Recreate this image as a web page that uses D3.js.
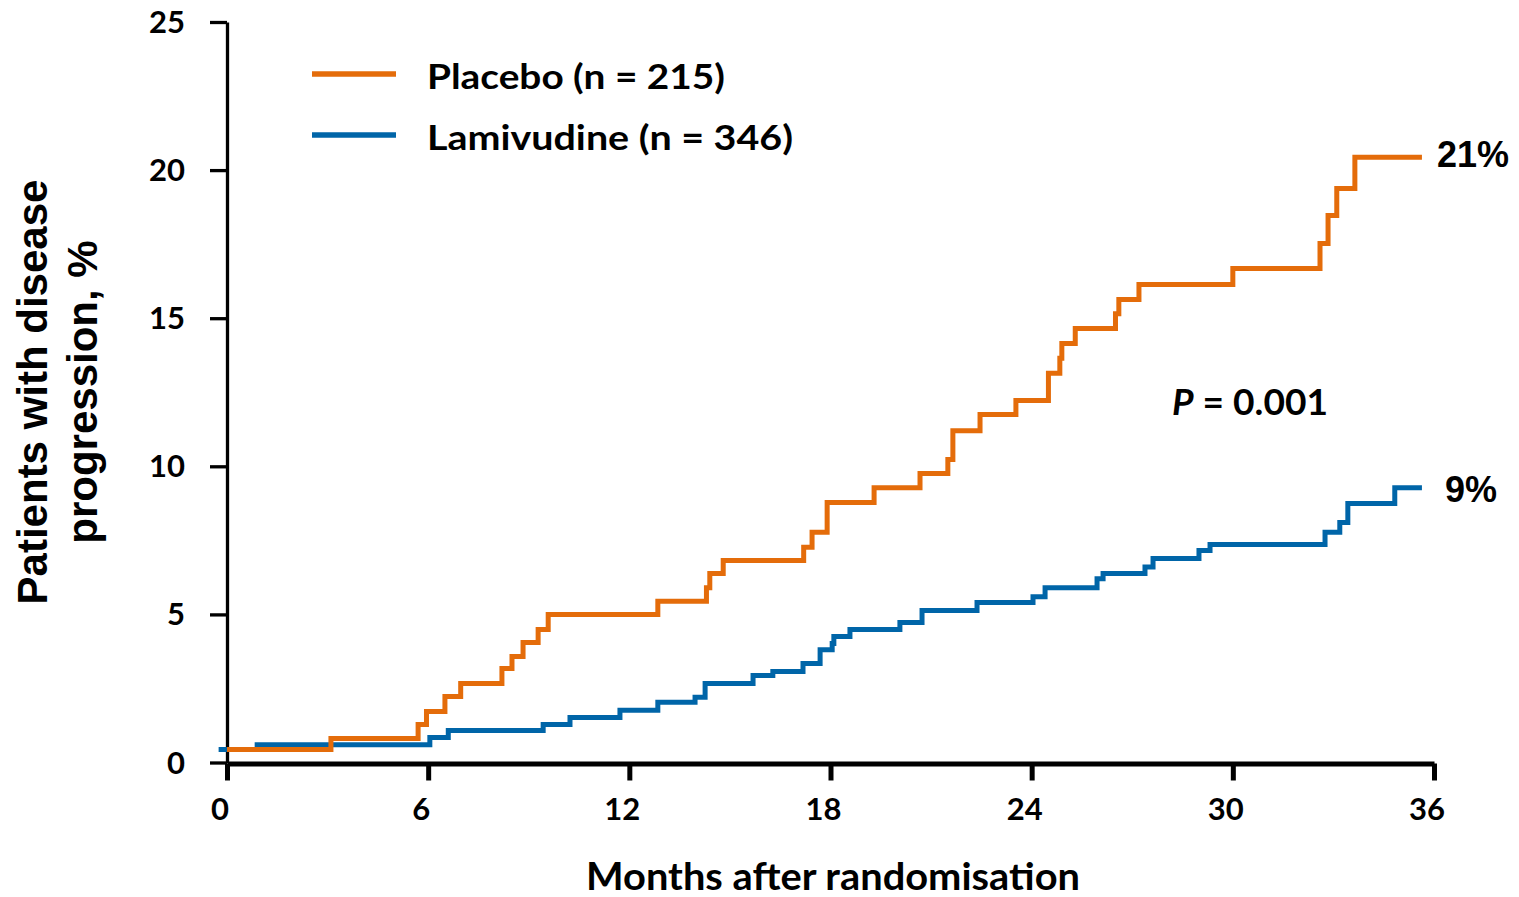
<!DOCTYPE html>
<html>
<head>
<meta charset="utf-8">
<script src="https://cdn.jsdelivr.net/npm/d3@7"></script>
<style>
  html, body { margin: 0; padding: 0; background: #ffffff; }
  svg { display: block; }
</style>
</head>
<body>
<script>
// ---------------- data ----------------
const xTicks = [0, 6, 12, 18, 24, 30, 36];
const yTicks = [0, 5, 10, 15, 20, 25];

const seriesNames = ["Placebo (n = 215)", "Lamivudine (n = 346)"];
const seriesColors = ["#E46C0A", "#0065A8"];

// Placebo: month at which each step starts, cumulative % with progression
const placeboMonths = [0, 3.1, 5.7, 5.95, 6.5, 6.97, 8.2, 8.5, 8.83, 9.28, 9.58, 12.85, 14.3, 14.4, 14.8,
  17.2, 17.45, 17.9, 19.3, 20.67, 21.5, 21.65, 22.46, 23.53, 24.5, 24.84, 24.9, 25.3, 26.5, 26.6,
  27.2, 30.0, 32.6, 32.84, 33.1, 33.64, 35.64];
const placeboPct = [0.44, 0.81, 1.28, 1.72, 2.23, 2.67, 3.17, 3.58, 4.05, 4.49, 5.0, 5.44, 5.9, 6.38, 6.82,
  7.27, 7.77, 8.78, 9.28, 9.76, 10.23, 11.2, 11.75, 12.22, 13.14, 13.65, 14.15, 14.65, 15.15, 15.63,
  16.14, 16.68, 17.52, 18.47, 19.38, 20.43, 20.43];

// Lamivudine
const lamMonths = [-0.25, 0.9, 6.05, 6.6, 9.43, 10.23, 11.72, 12.85, 13.96, 14.26, 15.69, 16.28, 17.18,
  17.69, 18.05, 18.1, 18.58, 20.07, 20.73, 22.37, 24.04, 24.4, 25.95, 26.13, 27.38, 27.62, 28.99,
  29.32, 32.75, 33.19, 33.43, 34.83, 35.64];
const lamPct = [0.44, 0.6, 0.84, 1.08, 1.28, 1.52, 1.76, 2.03, 2.2, 2.67, 2.94, 3.07, 3.34,
  3.81, 4.02, 4.25, 4.49, 4.73, 5.13, 5.4, 5.6, 5.9, 6.2, 6.38, 6.6, 6.89, 7.16,
  7.36, 7.77, 8.1, 8.74, 9.28, 9.28];

const endLabels = ["21%", "9%"];
const pValueText = "0.001";
const xTitle = "Months after randomisation";
const yTitleLines = ["Patients with disease", "progression, %"];

// ---------------- drawing ----------------
const W = 1519, H = 897;
const svg = d3.select("body").append("svg").attr("width", W).attr("height", H);

const x = d3.scaleLinear().domain([0, 36]).range([227, 1434]);
const y = d3.scaleLinear().domain([0, 25]).range([762.5, 22]);

const calibriLike = "Lato, 'Open Sans', sans-serif";
const arialLike = "'Liberation Sans', Arial, sans-serif";

// y axis
const gy = svg.append("g").attr("transform", "translate(227,0)")
  .call(d3.axisLeft(y).tickValues(yTicks).tickSize(17).tickSizeOuter(0).tickFormat(""));
gy.select(".domain").attr("stroke", "#000").attr("stroke-width", 3.3);
gy.selectAll(".tick line").attr("stroke", "#000").attr("stroke-width", 3.3);

// x axis
const gx = svg.append("g").attr("transform", "translate(0,763.5)")
  .call(d3.axisBottom(x).tickValues(xTicks).tickSize(17).tickSizeOuter(0).tickFormat(""));
gx.select(".domain").attr("stroke", "#000").attr("stroke-width", 5);
gx.selectAll(".tick line").attr("stroke", "#000").attr("stroke-width", 5);

// tick labels
svg.append("g").selectAll("text").data(yTicks).join("text")
  .attr("x", 185).attr("y", d => y(d) + 11)
  .attr("text-anchor", "end")
  .attr("font-family", calibriLike).attr("font-weight", 700).attr("font-size", 31)
  .text(d => d);

svg.append("g").selectAll("text").data(xTicks).join("text")
  .attr("x", d => x(d) - 7).attr("y", 820)
  .attr("text-anchor", "middle")
  .attr("font-family", calibriLike).attr("font-weight", 700).attr("font-size", 31)
  .text(d => d);

// axis titles
svg.append("text")
  .attr("x", 586).attr("y", 890)
  .attr("textLength", 494).attr("lengthAdjust", "spacingAndGlyphs")
  .attr("font-family", calibriLike).attr("font-weight", 700).attr("font-size", 38)
  .text(xTitle);

const yt = svg.append("g").attr("transform", "rotate(-90)");
yt.selectAll("text").data(yTitleLines).join("text")
  .attr("x", -392).attr("y", (d, i) => 47 + i * 50)
  .attr("text-anchor", "middle")
  .attr("font-family", arialLike).attr("font-weight", 700).attr("font-size", 42)
  .text(d => d);

// curves
const line = d3.line().x(d => x(d[0])).y(d => y(d[1])).curve(d3.curveStepAfter);
const series = [
  d3.zip(placeboMonths, placeboPct),
  d3.zip(lamMonths, lamPct)
];
// draw lamivudine first, placebo on top
[1, 0].forEach(i => {
  svg.append("path")
    .datum(series[i])
    .attr("d", line)
    .attr("fill", "none")
    .attr("stroke", seriesColors[i])
    .attr("stroke-width", 5)
    .attr("stroke-linejoin", "miter");
});

// legend
const legendTextWidths = [298, 366];
const lg = svg.append("g");
seriesNames.forEach((name, i) => {
  const yy = 74 + i * 61;
  lg.append("line").attr("x1", 312).attr("x2", 396).attr("y1", yy).attr("y2", yy)
    .attr("stroke", seriesColors[i]).attr("stroke-width", 5.5);
  lg.append("text").attr("x", 427).attr("y", 89 + i * 61)
    .attr("textLength", legendTextWidths[i]).attr("lengthAdjust", "spacingAndGlyphs")
    .attr("font-family", calibriLike).attr("font-weight", 700).attr("font-size", 35)
    .text(name);
});

// end labels
const lastVals = [placeboPct[placeboPct.length - 1], lamPct[lamPct.length - 1]];
svg.append("text").attr("x", 1437).attr("y", y(lastVals[0]) + 10)
  .attr("font-family", arialLike).attr("font-weight", 700).attr("font-size", 36)
  .text(endLabels[0]);
svg.append("text").attr("x", 1445).attr("y", y(lastVals[1]) + 14)
  .attr("font-family", arialLike).attr("font-weight", 700).attr("font-size", 36)
  .text(endLabels[1]);

// p value
const pt = svg.append("text").attr("x", 1172).attr("y", 415)
  .attr("textLength", 156).attr("lengthAdjust", "spacingAndGlyphs")
  .attr("font-family", calibriLike).attr("font-weight", 700).attr("font-size", 36);
pt.append("tspan").attr("font-style", "italic").text("P");
pt.append("tspan").text(" = " + pValueText);
</script>
</body>
</html>
